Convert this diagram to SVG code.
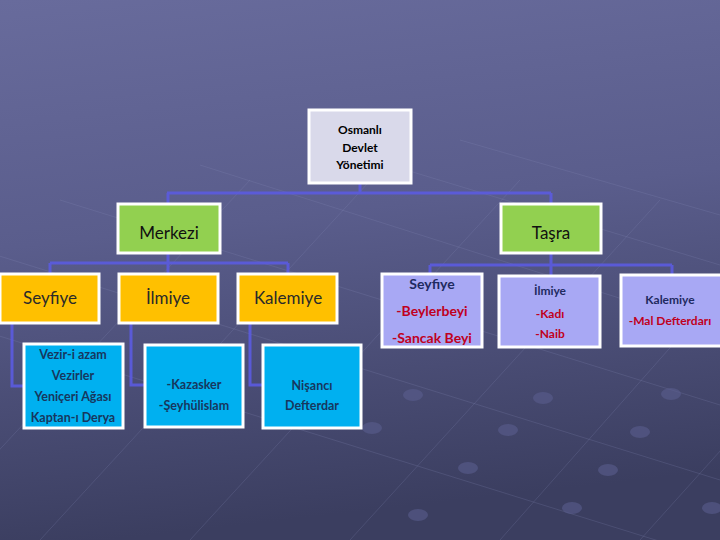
<svg xmlns="http://www.w3.org/2000/svg" width="720" height="540" viewBox="0 0 720 540">
<defs>
<linearGradient id="bg" x1="0" y1="0" x2="0.15" y2="1">
<stop offset="0" stop-color="#686b9c"/>
<stop offset="0.45" stop-color="#5a5d8c"/>
<stop offset="1" stop-color="#3b3e60"/>
</linearGradient>
<style>
.box{stroke:#ffffff;stroke-width:3}
.top{fill:#d9d9ea}
.green{fill:#92d050}
.yellow{fill:#ffc000}
.blue{fill:#00b0f0}
.lav{fill:#a8a8f4}
.con{fill:none;stroke:#5b5be0;stroke-width:3;stroke-opacity:0.9}
.grid{stroke:#8d90c0;stroke-width:1;stroke-opacity:0.2;fill:none}
.dot{fill:#5a5d8e;fill-opacity:0.6}
text{font-family:Lato,"Open Sans","Liberation Sans",sans-serif;text-anchor:middle}
.t1{font-size:12px;font-weight:bold;fill:#000000}
.t2{font-size:17px;fill:#111111}
.t3{font-size:17px;fill:#2a2a2a}
.t4{font-size:12.5px;font-weight:bold;fill:#17375e}
.t5{font-size:14px;font-weight:bold;fill:#1f2a60}
.r5{font-size:14px;font-weight:bold;fill:#c00020}
.t6{font-size:12px;font-weight:bold;fill:#1f2a60}
.r6{font-size:12px;font-weight:bold;fill:#c00020}
</style>
</defs>
<rect width="720" height="540" fill="url(#bg)"/>
<g id="grid">
<path class="grid" d="M-20 330 L720 560 M-20 250 L720 480 M60 200 L720 405 M200 165 L720 330 M340 150 L720 265 M460 140 L720 215"/>
<path class="grid" d="M40 540 L380 170 M190 540 L520 180 M350 540 L660 200 M500 540 L730 280 M640 540 L730 440 M-10 460 L250 180"/>
<ellipse class="dot" cx="413" cy="395" rx="10" ry="6"/>
<ellipse class="dot" cx="372" cy="428" rx="10" ry="6"/>
<ellipse class="dot" cx="508" cy="430" rx="10" ry="6"/>
<ellipse class="dot" cx="468" cy="468" rx="10" ry="6"/>
<ellipse class="dot" cx="418" cy="515" rx="10" ry="6"/>
<ellipse class="dot" cx="543" cy="398" rx="10" ry="6"/>
<ellipse class="dot" cx="640" cy="432" rx="10" ry="6"/>
<ellipse class="dot" cx="608" cy="470" rx="10" ry="6"/>
<ellipse class="dot" cx="572" cy="508" rx="10" ry="6"/>
<ellipse class="dot" cx="671" cy="394" rx="10" ry="6"/>
<ellipse class="dot" cx="712" cy="508" rx="10" ry="6"/>
</g>
<g id="connectors">
<path class="con" d="M360 184 V193 M167 193 H551 M168 193 V203 M551 193 V203"/>
<path class="con" d="M50 263 H288 M168 253 V273 M50 263 V273 M288 263 V273"/>
<path class="con" d="M551 253 V265 M430 265 H672 M430 265 V274 M551 265 V276 M672 265 V275"/>
<path class="con" d="M12 323 V386 H24 M131 323 V385 H145 M250 323 V385 H263"/>
</g>
<g id="n-osmanli">
<rect class="box top" x="309" y="110" width="102" height="73"/>
<text class="t1" x="360" y="134">Osmanlı</text>
<text class="t1" x="360" y="152">Devlet</text>
<text class="t1" x="360" y="169">Yönetimi</text>
</g>
<g id="n-merkezi">
<rect class="box green" x="118" y="204" width="102" height="49"/>
<text class="t2" x="169" y="239">Merkezi</text>
</g>
<g id="n-tasra">
<rect class="box green" x="501" y="204" width="100" height="49"/>
<text class="t2" x="551" y="239">Taşra</text>
</g>
<g id="n-seyfiye">
<rect class="box yellow" x="0" y="274" width="99" height="49"/>
<text class="t3" x="50" y="304">Seyfiye</text>
</g>
<g id="n-ilmiye">
<rect class="box yellow" x="119" y="274" width="99" height="49"/>
<text class="t3" x="168" y="304">İlmiye</text>
</g>
<g id="n-kalemiye">
<rect class="box yellow" x="238" y="274" width="99" height="49"/>
<text class="t3" x="288" y="304">Kalemiye</text>
</g>
<g id="n-seyfiye-m">
<rect class="box blue" x="24" y="344" width="99" height="84"/>
<text class="t4" x="73" y="359">Vezir-i azam</text>
<text class="t4" x="73" y="380">Vezirler</text>
<text class="t4" x="73" y="401">Yeniçeri Ağası</text>
<text class="t4" x="73" y="422">Kaptan-ı Derya</text>
</g>
<g id="n-ilmiye-m">
<rect class="box blue" x="145" y="345" width="98" height="82"/>
<text class="t4" x="194" y="389">-Kazasker</text>
<text class="t4" x="194" y="410">-Şeyhülislam</text>
</g>
<g id="n-kalemiye-m">
<rect class="box blue" x="263" y="345" width="98" height="83"/>
<text class="t4" x="312" y="390">Nişancı</text>
<text class="t4" x="312" y="410">Defterdar</text>
</g>
<g id="n-seyfiye-t">
<rect class="box lav" x="382" y="274" width="100" height="73"/>
<text class="t5" x="432" y="289">Seyfiye</text>
<text class="r5" x="432" y="316">-Beylerbeyi</text>
<text class="r5" x="432" y="343">-Sancak Beyi</text>
</g>
<g id="n-ilmiye-t">
<rect class="box lav" x="499" y="276" width="101" height="71"/>
<text class="t6" x="550" y="295">İlmiye</text>
<text class="r6" x="550" y="318">-Kadı</text>
<text class="r6" x="550" y="338">-Naib</text>
</g>
<g id="n-kalemiye-t">
<rect class="box lav" x="621" y="275" width="104" height="71"/>
<text class="t6" x="670" y="304">Kalemiye</text>
<text class="r6" x="670" y="325">-Mal Defterdarı</text>
</g>
</svg>
